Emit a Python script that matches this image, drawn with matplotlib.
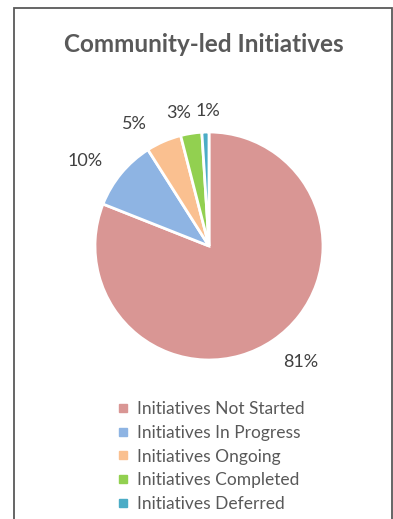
import matplotlib
matplotlib.use("Agg")
import matplotlib.pyplot as plt
from matplotlib.patches import Rectangle
from matplotlib.lines import Line2D
import numpy as np

title = "Community-led Initiatives"
categories = ["Initiatives Not Started", "Initiatives In Progress", "Initiatives Ongoing",
              "Initiatives Completed", "Initiatives Deferred"]
values = [81, 10, 5, 3, 1]
colors = ["#D99694", "#8EB4E3", "#FAC090", "#92D050", "#4BACC6"]
label_dist = [1.30, 1.32, 1.25, 1.20, 1.18]
label_angle_shift = [4, 5, 8, 4, -1.5]

plt.rcParams['font.family'] = ['Lato', 'DejaVu Sans']

W, H = 393, 519
fig = plt.figure(figsize=(W / 100, H / 100), dpi=100)

# chart border
fig.patches.append(Rectangle((14.5 / W, -0.05), (391.5 - 14.5) / W, 1.05 - 7.5 / H,
                             transform=fig.transFigure, fill=False,
                             edgecolor="#595959", linewidth=1.3))

fig.text(204 / W, 1 - 45 / H, title, ha="center", va="center", fontsize=17.5,
         fontweight="bold", color="#595959")

cx, cy, r = 209, 246, 114
ax = fig.add_axes([(cx - r) / W, 1 - (cy + r) / H, 2 * r / W, 2 * r / H])
wedges, _ = ax.pie(values, colors=colors, startangle=90, counterclock=False,
                   wedgeprops=dict(edgecolor="white", linewidth=2))
ax.set_xlim(-1, 1)
ax.set_ylim(-1, 1)
ax.set_aspect("equal")
ax.axis("off")

total = sum(values)
for w, v, d, s in zip(wedges, values, label_dist, label_angle_shift):
    mid = np.deg2rad((w.theta1 + w.theta2) / 2 + s)
    ax.text(d * np.cos(mid), d * np.sin(mid), f"{round(100 * v / total)}%",
            ha="center", va="center", fontsize=13, color="#404040", clip_on=False)

handles = [Line2D([0], [0], marker="s", linestyle="none", markersize=5.5,
                  markerfacecolor=c, markeredgecolor=c) for c in colors]
fig.legend(handles, categories, loc="upper left",
           bbox_to_anchor=(110 / W, 1 - 394 / H), frameon=False,
           fontsize=12.5, labelcolor="#595959", handlelength=0.7,
           handletextpad=0.45, labelspacing=0.45, borderaxespad=0)

fig.savefig("out.png", dpi=100)
